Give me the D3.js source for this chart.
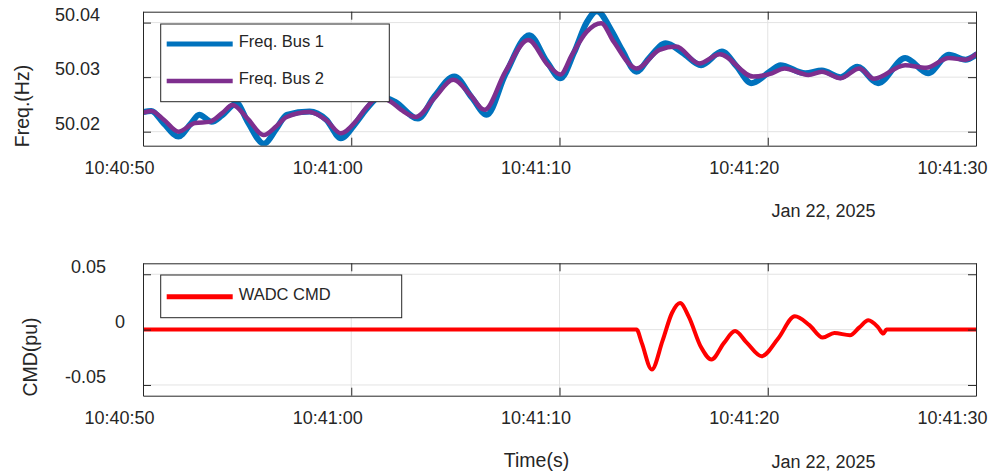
<!DOCTYPE html>
<html>
<head>
<meta charset="utf-8">
<script src="https://cdn.jsdelivr.net/npm/d3@7/dist/d3.min.js"></script>
<style>
  body { margin: 0; background: #fff; }
  svg text { font-family: "Liberation Sans", Arial, Helvetica, sans-serif; fill: #262626; }
</style>
</head>
<body>
<div id="chart"></div>
<script>
// time axis: seconds after 10:40:50 on Jan 22, 2025
const startTime = new Date(2025, 0, 22, 10, 40, 50);
const timeTicks = [0, 10, 20, 30, 40];
const dateLabel = "Jan 22, 2025";

// Freq. Bus 1 (blue, noisier, larger swings)
const bus1Seconds = [0, 0.4, 1.0, 1.7, 2.3, 2.7, 3.3, 3.8, 4.5, 5.0, 5.8, 6.4, 6.9, 8.0, 8.8, 9.5,
  10.2, 10.7, 11.4, 12.1, 13.2, 14.0, 14.95, 15.8, 16.5, 17.4, 18.55, 19.4, 20.05, 20.7, 21.3, 21.8,
  22.5, 23.0, 23.7, 24.3, 25.1, 25.9, 26.8, 27.8, 28.5, 29.2, 30.2, 30.6, 31.8, 32.6, 33.5, 34.3,
  35.3, 36.6, 37.7, 38.7, 39.5, 40];
const bus1Values = [50.0236, 50.0238, 50.0215, 50.0191, 50.0215, 50.0231, 50.0218, 50.0230, 50.0252, 50.0220, 50.0178, 50.0205, 50.0231, 50.0237, 50.0222, 50.0188,
  50.0215, 50.0240, 50.0264, 50.0255, 50.0224, 50.0265, 50.0301, 50.0262, 50.0231, 50.0305, 50.0377, 50.0328, 50.0298, 50.0345, 50.0400, 50.0421,
  50.0385, 50.0350, 50.0310, 50.0335, 50.0362, 50.0345, 50.0322, 50.0347, 50.0320, 50.0289, 50.0313, 50.0322, 50.0307, 50.0312, 50.0300, 50.0319,
  50.0289, 50.0335, 50.0307, 50.0341, 50.0332, 50.0341];

// Freq. Bus 2 (purple)
const bus2Seconds = [0, 0.4, 1.0, 1.7, 2.5, 3.2, 3.8, 4.3, 5.0, 5.8, 6.4, 6.9, 8.0, 8.8, 9.5,
  10.2, 10.7, 11.3, 11.9, 12.4, 13.1, 14.0, 14.9, 15.7, 16.4, 17.4, 18.5, 19.45, 20.05, 20.6, 21.3, 22.0,
  22.6, 23.7, 24.8, 25.6, 26.7, 27.7, 29.3, 30.2, 30.8, 31.95, 32.6, 33.5, 34.4, 35.1, 36.6, 37.6, 38.7, 39.5, 40];
const bus2Values = [50.0235, 50.0238, 50.0222, 50.0200, 50.0216, 50.0218, 50.0234, 50.0249, 50.0225, 50.0194, 50.0210, 50.0227, 50.0236, 50.0221, 50.0197,
  50.0218, 50.0243, 50.0262, 50.0255, 50.0240, 50.0227, 50.0262, 50.0295, 50.0268, 50.0240, 50.0310, 50.0368, 50.0322, 50.0305, 50.0341, 50.0383, 50.0399,
  50.0365, 50.0316, 50.0350, 50.0356, 50.0325, 50.0342, 50.0301, 50.0307, 50.0316, 50.0304, 50.0310, 50.0298, 50.0316, 50.0297, 50.0322, 50.0317, 50.0335, 50.0332, 50.0342];

// WADC CMD (red)
const cmdSeconds = [0, 23.7, 23.95, 24.43, 24.95, 25.4, 25.79, 26.2, 26.8, 27.3, 27.9, 28.43, 29.0, 29.7,
  30.5, 31.3, 32.0, 32.64, 33.2, 33.95, 34.4, 34.83, 35.3, 35.55, 35.7, 40];
const cmdValues = [0, 0, -0.012, -0.036, -0.010, 0.015, 0.024, 0.012, -0.016, -0.027, -0.012, -0.0013, -0.012, -0.024,
  -0.008, 0.012, 0.004, -0.0072, -0.0031, -0.0051, 0.002, 0.0084, 0.002, -0.0036, 0, 0];

const freqTicks = [50.02, 50.03, 50.04];
const cmdTicks = [-0.05, 0, 0.05];
const freqNames = ["Freq. Bus 1", "Freq. Bus 2"];
const freqColors = ["#0072BD", "#7E2F8E"];
const cmdNames = ["WADC CMD"];
const cmdColors = ["#FF0000"];

const width = 991, height = 474;
const toDate = s => new Date(startTime.getTime() + s * 1000);

const svg = d3.select("#chart")
  .append("svg")
  .attr("width", width)
  .attr("height", height);

const xScale = d3.scaleTime()
  .domain([toDate(0), toDate(40)])
  .range([143, 976]);

const drawPanel = (p) => {
  const [x0, x1] = xScale.range();
  const [yBottom, yTop] = p.yScale.range();

  const clipId = "clip-" + p.id;
  svg.append("clipPath").attr("id", clipId)
    .append("rect")
    .attr("x", x0).attr("y", yTop)
    .attr("width", x1 - x0).attr("height", yBottom - yTop);

  // grid lines
  const grid = svg.append("g").attr("stroke", "#e3e3e3").attr("stroke-width", 1);
  grid.selectAll(".gy").data(p.ticks).join("line")
    .attr("x1", x0).attr("x2", x1)
    .attr("y1", d => p.yScale(d)).attr("y2", d => p.yScale(d));
  grid.selectAll(".gx").data(timeTicks.slice(1, -1)).join("line")
    .attr("x1", d => xScale(toDate(d))).attr("x2", d => xScale(toDate(d)))
    .attr("y1", yTop).attr("y2", yBottom);

  // data lines
  const lineGen = d3.line()
    .x(d => xScale(toDate(d[0])))
    .y(d => p.yScale(d[1]))
    .curve(d3.curveMonotoneX);

  svg.append("g").attr("clip-path", `url(#${clipId})`)
    .selectAll("path")
    .data(p.series)
    .join("path")
    .attr("d", d => lineGen(d3.zip(d.seconds, d.values)))
    .attr("fill", "none")
    .attr("stroke", d => d.color)
    .attr("stroke-width", d => d.width)
    .attr("stroke-linejoin", "round")
    .attr("stroke-linecap", "round");

  // axes (ticks point inward, box on)
  const timeFmt = d3.timeFormat("%H:%M:%S");
  const bottomAxis = svg.append("g")
    .attr("transform", `translate(0, ${yBottom})`)
    .call(d3.axisBottom(xScale).tickValues(timeTicks.map(toDate))
      .tickFormat(timeFmt).tickSizeInner(-8).tickSizeOuter(0).tickPadding(16));
  svg.append("g")
    .attr("transform", `translate(0, ${yTop})`)
    .call(d3.axisTop(xScale).tickValues(timeTicks.map(toDate))
      .tickFormat("").tickSizeInner(-8).tickSizeOuter(0));
  const leftAxis = svg.append("g")
    .attr("transform", `translate(${x0}, 0)`)
    .call(d3.axisLeft(p.yScale).tickValues(p.ticks)
      .tickFormat(p.format).tickSizeInner(-8).tickSizeOuter(0).tickPadding(p.pad));
  svg.append("g")
    .attr("transform", `translate(${x1}, 0)`)
    .call(d3.axisRight(p.yScale).tickValues(p.ticks)
      .tickFormat("").tickSizeInner(-8).tickSizeOuter(0));

  svg.selectAll(".domain").attr("stroke", "#262626");
  svg.selectAll(".tick line").attr("stroke", "#262626");
  // the tick labels in the original sit a bit left of their ticks
  bottomAxis.selectAll("text").style("font-size", "18px").attr("fill", "#262626")
    .attr("dx", -24);
  leftAxis.selectAll("text").style("font-size", "18px").attr("fill", "#262626")
    .attr("dy", "-0.12em")
    .attr("x", d => d === 0 ? -18 : -p.pad);

  // axis titles
  svg.append("text")
    .attr("transform", `translate(${p.labelPos[0]}, ${p.labelPos[1]}) rotate(-90)`)
    .attr("text-anchor", "middle").attr("dy", "0.35em")
    .style("font-size", "19.5px")
    .text(p.yLabel);
  svg.append("text")
    .attr("x", 771.5).attr("y", yBottom + p.dateOffset)
    .attr("dy", "0.35em")
    .style("font-size", "18px")
    .text(dateLabel);

  // legend
  const lg = svg.append("g");
  lg.append("rect")
    .attr("x", p.legend.x).attr("y", p.legend.y)
    .attr("width", p.legend.w).attr("height", p.legend.h)
    .attr("fill", "#fff").attr("stroke", "#262626").attr("stroke-width", 1);
  const items = lg.selectAll(".item").data(p.series).join("g")
    .attr("transform", (d, i) => `translate(${p.legend.x}, ${p.legend.y + p.legend.first + i * 37})`);
  items.append("line")
    .attr("x1", 6).attr("x2", 72).attr("y1", 0).attr("y2", 0)
    .attr("stroke", d => d.color).attr("stroke-width", d => d.legendWidth);
  items.append("text")
    .attr("x", 78).attr("y", -2.5).attr("dy", "0.35em")
    .style("font-size", "16.5px").attr("fill", "#000")
    .text(d => d.name);
};

drawPanel({
  id: "freq",
  yScale: d3.scaleLinear().domain([50.01743, 50.0420]).range([145.7, 11.7]),
  ticks: freqTicks,
  format: d3.format(".2f"),
  pad: 43,
  yLabel: "Freq.(Hz)",
  labelPos: [22, 106],
  dateOffset: 64.5,
  legend: { x: 160.7, y: 24, w: 228.6, h: 77.7, first: 20 },
  series: [
    { name: freqNames[0], color: freqColors[0], seconds: bus1Seconds, values: bus1Values, width: 6, legendWidth: 5 },
    { name: freqNames[1], color: freqColors[1], seconds: bus2Seconds, values: bus2Values, width: 4.5, legendWidth: 4.5 }
  ]
});

drawPanel({
  id: "cmd",
  yScale: d3.scaleLinear().domain([-0.0597, 0.0599]).range([395.7, 263.3]),
  ticks: cmdTicks,
  format: d => d === 0 ? "0" : d3.format(".2f")(d).replace("−", "-"),
  pad: 37,
  yLabel: "CMD(pu)",
  labelPos: [30, 357],
  dateOffset: 66,
  legend: { x: 160.7, y: 275, w: 241, h: 42.7, first: 21.7 },
  series: [
    { name: cmdNames[0], color: cmdColors[0], seconds: cmdSeconds, values: cmdValues, width: 4, legendWidth: 5 }
  ]
});

// x-axis title under the lower panel
svg.append("text")
  .attr("x", 536.5).attr("y", 460)
  .attr("text-anchor", "middle").attr("dy", "0.35em")
  .style("font-size", "19.5px")
  .text("Time(s)");
</script>
</body>
</html>
